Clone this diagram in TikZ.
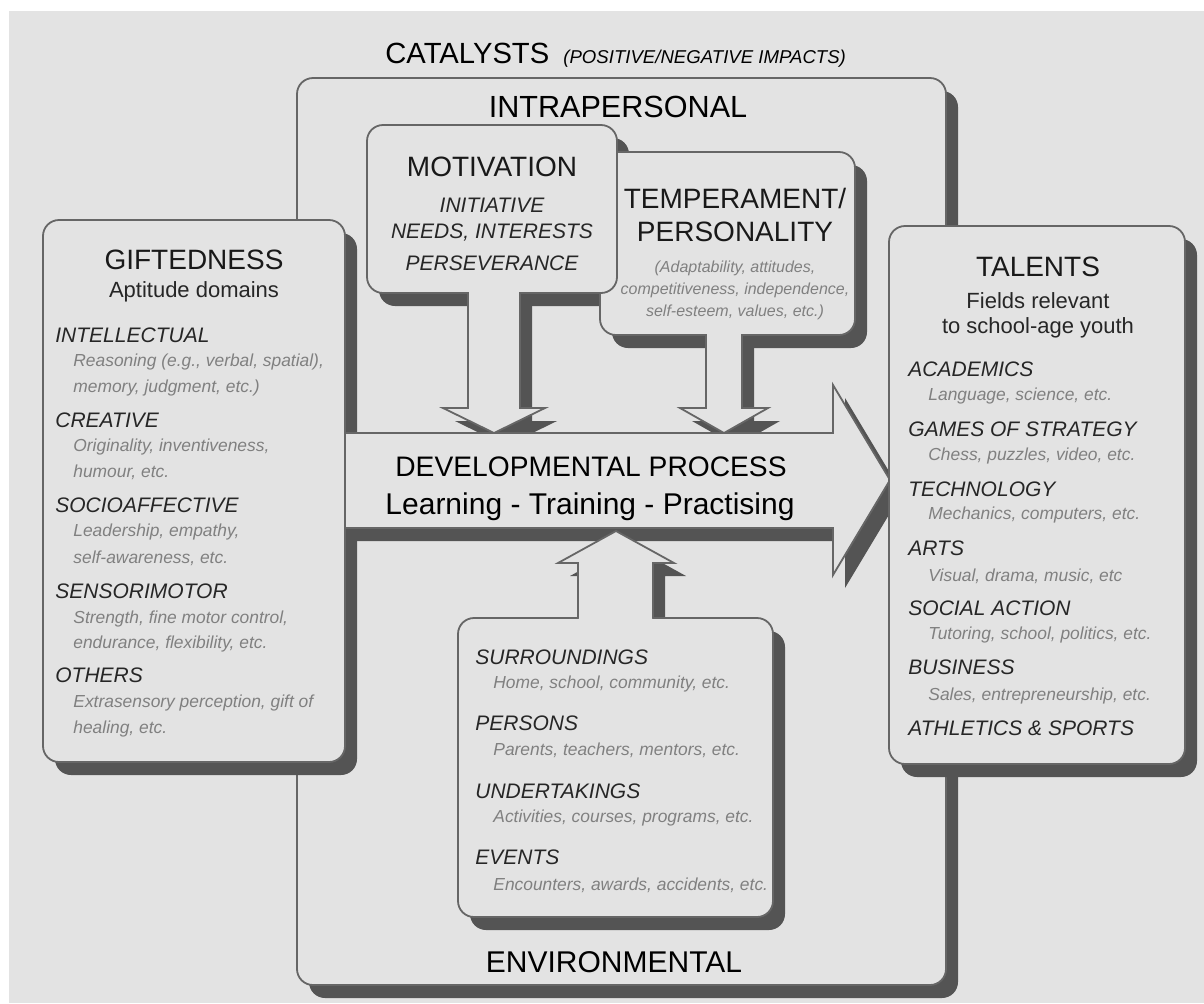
\documentclass[tikz,border=0pt]{standalone}
\usepackage{fontspec}
\setmainfont{Liberation Sans}
\definecolor{paper}{HTML}{E3E3E3}
\definecolor{shadowgray}{HTML}{545454}
\definecolor{rim}{HTML}{666666}

\begin{document}
\begin{tikzpicture}[x=0.5pt,y=-0.5pt,
   panel/.style={fill=paper,draw=rim,line width=0.9pt,rounded corners=8pt},
   blockarrow/.style={fill=paper,draw=rim,line width=0.9pt},
   shd/.style={fill=shadowgray,rounded corners=8pt},
   arrowshd/.style={fill=shadowgray},
   bigtitle/.style={font=\fontsize{14}{16}\selectfont,text=black!90},
   subtitle/.style={font=\fontsize{11}{13}\selectfont,text=black!85},
   itemhead/.style={anchor=west,inner sep=0pt,font=\fontsize{10.5}{12}\selectfont\itshape,text=black!85},
   itemtext/.style={anchor=west,inner sep=0pt,font=\fontsize{8.7}{10}\selectfont\itshape,text=black!50},
   smallnote/.style={inner sep=0pt,font=\fontsize{8}{10}\selectfont\itshape,text=black!50}]

   % page
   \fill[white] (0,0) rectangle (1204,1003);
   \fill[paper] (9,11) rectangle (1204,1003);
   \useasboundingbox (0,0) rectangle (1204,1003);

   % catalysts frame
   \fill[shd] (309,91) rectangle (958,998);
   \draw[panel] (297,78) rectangle (946,985);

   % shadows lying under other parts
   \begin{scope}[shift={(12,13)}]
      \fill[shd] (43,220) rectangle (345,762);
      \fill[shd] (367,125) rectangle (617,293);
   \end{scope}

   % temperament box with its arrow
   \begin{scope}[shift={(12,13)}]
      \fill[shd] (600,152) rectangle (855,335);
      \fill[arrowshd] (706,330) -- (706,408) -- (680,408) -- (724,433) -- (768,408) -- (742,408) -- (742,330) -- cycle;
   \end{scope}
   \draw[panel] (600,152) rectangle (855,335);
   \fill[paper] (707,330) rectangle (741,339);
   \draw[blockarrow] (706,335) -- (706,408) -- (680,408) -- (724,433) -- (768,408) -- (742,408) -- (742,335);

   % motivation box with its arrow
   \begin{scope}[shift={(12,13)}]
      \fill[arrowshd] (468,288) -- (468,408) -- (443,408) -- (494,433) -- (545,408) -- (520,408) -- (520,288) -- cycle;
   \end{scope}
   \draw[panel] (367,125) rectangle (617,293);
   \fill[paper] (469,288) rectangle (519,297);
   \draw[blockarrow] (468,293) -- (468,408) -- (443,408) -- (494,433) -- (545,408) -- (520,408) -- (520,293);

   % developmental process
   \begin{scope}[shift={(12,13)}]
      \fill[arrowshd] (300,433) -- (833,433) -- (833,385) -- (890,480) -- (833,575) -- (833,528) -- (300,528) -- cycle;
   \end{scope}
   \draw[blockarrow] (300,433) -- (833,433) -- (833,385) -- (890,480) -- (833,575) -- (833,528) -- (300,528) -- cycle;

   % environmental box with its arrow
   \begin{scope}[shift={(12,13)}]
      \fill[shd] (458,618) rectangle (773,917);
      \fill[arrowshd] (578,622) -- (578,563) -- (558,563) -- (616,531) -- (674,563) -- (653,563) -- (653,622) -- cycle;
   \end{scope}
   \draw[panel] (458,618) rectangle (773,917);
   \fill[paper] (579,613) rectangle (652,622);
   \draw[blockarrow] (578,618) -- (578,563) -- (558,563) -- (616,531) -- (674,563) -- (653,563) -- (653,618);

   % giftedness and talents
   \draw[panel] (43,220) rectangle (345,762);
   \fill[shd] (901,239) rectangle (1197,777);
   \draw[panel] (889,226) rectangle (1185,764);

   % headings
   \node[anchor=west,inner sep=0pt] (cat) at (385,55)
      {\fontsize{14.6}{16}\selectfont CATALYSTS\hspace{3pt}
       {\fontsize{9.3}{11}\selectfont\itshape (POSITIVE/NEGATIVE IMPACTS)}};
   \node[font=\fontsize{15.3}{17}\selectfont] (intra) at (618,107) {INTRAPERSONAL};
   \node[font=\fontsize{15}{17}\selectfont] (env) at (614,962) {ENVIRONMENTAL};

   % motivation
   \node[bigtitle] (mot) at (492,167) {MOTIVATION};
   \foreach \y/\t in {205/INITIATIVE, 233/{NEEDS, INTERESTS}, 263/PERSEVERANCE}
      \node[itemhead,anchor=center] (mot\y) at (492,\y) {\t};

   % temperament
   \node[bigtitle] (temp) at (735,198) {TEMPERAMENT/};
   \node[bigtitle] (pers) at (735,232) {PERSONALITY};
   \foreach \y/\t in {268/{(Adaptability, attitudes,}, 290/{competitiveness, independence,}, 312/{self-esteem, values, etc.)}}
      \node[smallnote] (temp\y) at (735,\y) {\t};

   % developmental process
   \node[font=\fontsize{14.1}{16}\selectfont] (dev) at (591,467) {DEVELOPMENTAL PROCESS};
   \node[font=\fontsize{15}{17}\selectfont] (ltp) at (590,507) {Learning - Training - Practising};

   % giftedness
   \node[bigtitle] (gift) at (194,260) {GIFTEDNESS};
   \node[subtitle] (apt) at (194,292) {Aptitude domains};
   \foreach \y/\t in {335/INTELLECTUAL, 420/CREATIVE, 505/SOCIOAFFECTIVE, 591/SENSORIMOTOR, 675/OTHERS}
      \node[itemhead] (g\y) at (55,\y) {\t};
   \foreach \y/\t in {362/{Reasoning (e.g., verbal, spatial),}, 388/{memory, judgment, etc.)},
                      447/{Originality, inventiveness,}, 472/{humour, etc.},
                      532/{Leadership, empathy,}, 558/{self-awareness, etc.},
                      619/{Strength, fine motor control,}, 644/{endurance, flexibility, etc.},
                      703/{Extrasensory perception, gift of}, 729/{healing, etc.}}
      \node[itemtext] (gd\y) at (73,\y) {\t};

   % talents
   \node[bigtitle] (tal) at (1038,267) {TALENTS};
   \node[subtitle] (fld) at (1038,301) {Fields relevant};
   \node[subtitle] (yth) at (1038,328) {to school-age youth};
   \foreach \y/\t in {369/ACADEMICS, 429/GAMES OF STRATEGY, 489/TECHNOLOGY, 548/ARTS,
                      608/SOCIAL ACTION, 667/BUSINESS, 728/ATHLETICS \& SPORTS}
      \node[itemhead] (t\y) at (908,\y) {\t};
   \foreach \y/\t in {396/{Language, science, etc.}, 456/{Chess, puzzles, video, etc.},
                      515/{Mechanics, computers, etc.}, 576/{Visual, drama, music, etc},
                      635/{Tutoring, school, politics, etc.}, 696/{Sales, entrepreneurship, etc.}}
      \node[itemtext] (td\y) at (928,\y) {\t};

   % environmental
   \foreach \y/\t in {657/SURROUNDINGS, 723/PERSONS, 791/UNDERTAKINGS, 857/EVENTS}
      \node[itemhead] (e\y) at (475,\y) {\t};
   \foreach \y/\t in {684/{Home, school, community, etc.}, 750/{Parents, teachers, mentors, etc.},
                      818/{Activities, courses, programs, etc.}, 885/{Encounters, awards, accidents, etc.}}
      \node[itemtext] (ed\y) at (493,\y) {\t};
\end{tikzpicture}
\end{document}
